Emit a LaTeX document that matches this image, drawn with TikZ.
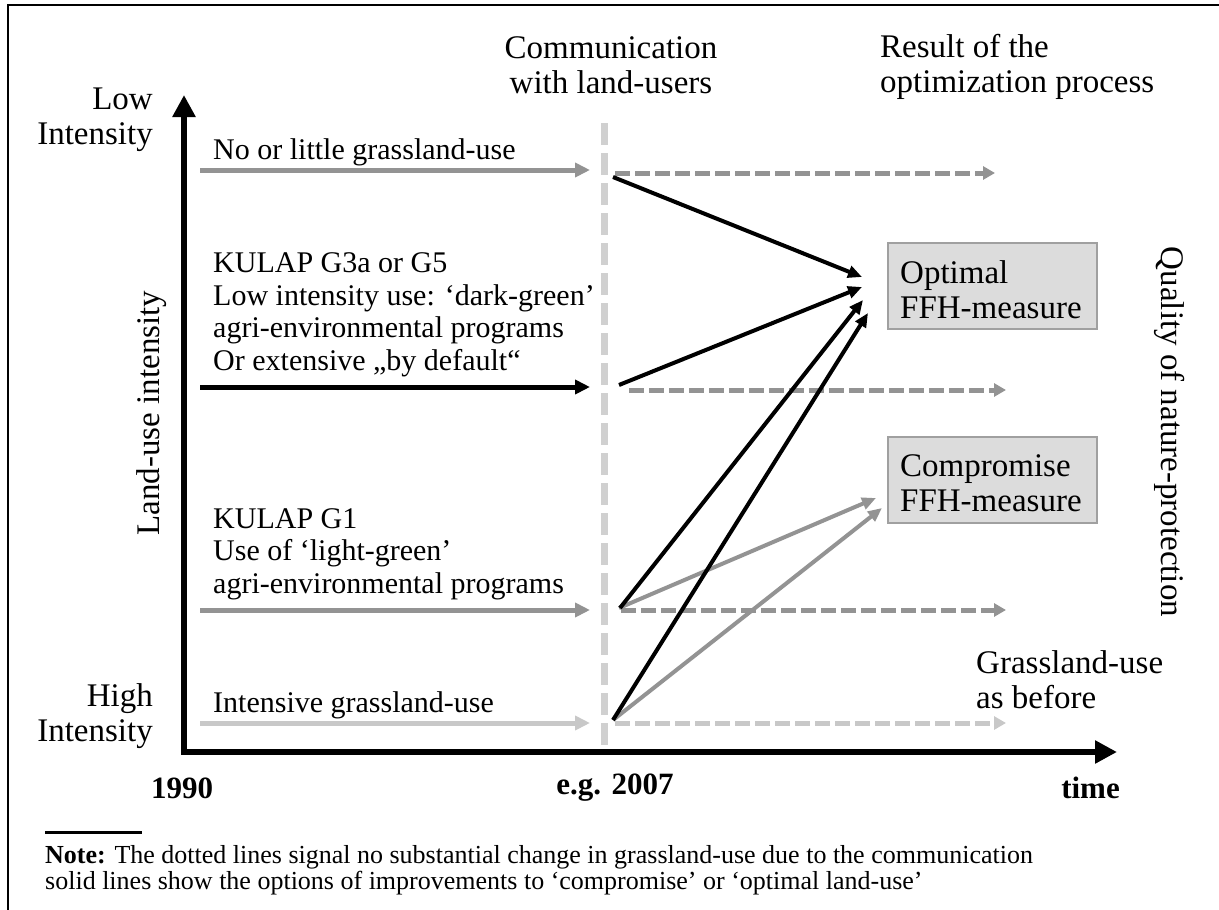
\documentclass[tikz,border=0pt]{standalone}
\usepackage{fontspec}
\setmainfont{Liberation Serif}
\usetikzlibrary{arrows.meta}
\definecolor{midgray}{HTML}{939393}
\definecolor{lightgray}{HTML}{C8C8C8}
\definecolor{dashgray}{HTML}{D0D0D0}
\definecolor{boxfill}{HTML}{DCDCDC}
\definecolor{boxline}{HTML}{A0A0A0}
\begin{document}
\begin{tikzpicture}[x=1pt,y=-1pt,
  txt/.style={font=\fontsize{30}{32.5}\selectfont, inner sep=0pt, align=left},
  bigtxt/.style={font=\fontsize{33}{35}\selectfont, inner sep=0pt, align=left},
  btxt/.style={font=\fontsize{31}{34}\selectfont\bfseries, inner sep=0pt},
  notetxt/.style={font=\fontsize{26}{26}\selectfont, inner sep=0pt, align=left, anchor=west},
  axis/.style={line width=6pt, line join=miter, {Triangle[length=22pt,width=22pt]}-{Triangle[length=22pt,width=22pt]}},
  solidarr/.style={line width=5pt, -{Triangle[length=15pt,width=14pt]}},
  dasharr/.style={line width=5pt, dash pattern=on 15pt off 5pt, -{Triangle[length=12pt,width=13pt]}},
  diagarr/.style={line width=4pt, -{Triangle[length=14pt,width=12pt]}},
  measurebox/.style={draw=boxline, line width=1.5pt, fill=boxfill, minimum width=209pt, minimum height=86pt, inner sep=0pt}
]
\useasboundingbox (0,0) rectangle (1219,910);
% frame
\draw[line width=2pt] (8,910) -- (8,5) -- (1219,5);

% axes
\coordinate (ytip) at (184,95);
\coordinate (orig) at (184,752);
\coordinate (xtip) at (1117,752);
\draw[axis] (ytip) -- (orig) -- (xtip);

% communication line
\coordinate (comtop) at (604,123);
\coordinate (combot) at (604,750);
\draw[dashgray, line width=7pt, dash pattern=on 22pt off 8pt] (comtop) -- (combot);

% axis labels
\node[bigtxt, anchor=east, align=right] (low) at (153,120) {Low\\Intensity};
\node[bigtxt, anchor=east, align=right] (high) at (153,716) {High\\Intensity};
\node[bigtxt, rotate=90] (lui) at (152,413) {Land-use intensity};
\node[bigtxt, rotate=-90] (qual) at (1170,432) {Quality of nature-protection};
\node[bigtxt, align=center] (comm) at (611,65) {Communication\\with land-users};
\node[bigtxt, anchor=west] (res) at (880,67) {Result of the\\optimization process};

% row texts
\node[txt, anchor=west] (t1) at (213,152) {No or little grassland-use};
\node[txt, anchor=west] (t2) at (213,315) {KULAP G3a or G5\\Low intensity use: ‘dark-green’\\agri-environmental programs\\Or extensive „by default“};
\node[txt, anchor=west] (t3) at (213,554) {KULAP G1\\Use of ‘light-green’\\agri-environmental programs};
\node[txt, anchor=west] (t4) at (213,705) {Intensive grassland-use};
\node[bigtxt, anchor=west] (asb) at (976,680) {Grassland-use\\as before};

% boxes
\node[measurebox] (opt) at (992.5,286) {};
\node[bigtxt, anchor=west] (optt) at (900,290) {Optimal\\FFH-measure};
\node[measurebox] (comp) at (992.5,480) {};
\node[bigtxt, anchor=west] (compt) at (900,483) {Compromise\\FFH-measure};

% time labels
\node[btxt] (y1990) at (182,788) {1990};
\node[btxt] (y2007) at (615,788) {e.g. 2007};
\node[btxt, anchor=east] (time) at (1120,788) {time};

% horizontal solid arrows
\coordinate (s1) at (200,170); \coordinate (e1) at (590,170);
\coordinate (s2) at (200,387); \coordinate (e2) at (590,387);
\coordinate (s3) at (200,610); \coordinate (e3) at (590,610);
\coordinate (s4) at (200,723); \coordinate (e4) at (590,723);
\draw[solidarr, midgray] (s1) -- (e1);
\draw[solidarr, black] (s2) -- (e2);
\draw[solidarr, midgray] (s3) -- (e3);
\draw[solidarr, lightgray] (s4) -- (e4);

% dashed arrows
\coordinate (d1s) at (615,173); \coordinate (d1e) at (995,173);
\coordinate (d2s) at (629,390); \coordinate (d2e) at (1006,390);
\coordinate (d3s) at (621,610); \coordinate (d3e) at (1006,610);
\coordinate (d4s) at (615,723); \coordinate (d4e) at (1006,723);
\draw[dasharr, midgray] (d1s) -- (d1e);
\draw[dasharr, midgray] (d2s) -- (d2e);
\draw[dasharr, midgray] (d3s) -- (d3e);
\draw[dasharr, lightgray] (d4s) -- (d4e);

% diagonal arrows
\coordinate (o1) at (613,177); \coordinate (oe1) at (862,277);
\coordinate (o2) at (619,385); \coordinate (oe2) at (862,287);
\coordinate (o3) at (620,608); \coordinate (oe3) at (863,300);
\coordinate (o4) at (613,720); \coordinate (oe4) at (868,313);
\coordinate (c3) at (619,608); \coordinate (ce3) at (876,498);
\coordinate (c4) at (613,720); \coordinate (ce4) at (882,508);
\draw[diagarr, midgray] (c3) -- (ce3);
\draw[diagarr, midgray] (c4) -- (ce4);
\draw[diagarr, black] (o1) -- (oe1);
\draw[diagarr, black] (o2) -- (oe2);
\draw[diagarr, black] (o3) -- (oe3);
\draw[diagarr, black] (o4) -- (oe4);

% note
\coordinate (r1) at (45,832); \coordinate (r2) at (142,832);
\draw[line width=3pt] (r1) -- (r2);
\node[notetxt] (note1) at (45,857) {\textbf{Note:} The dotted lines signal no substantial change in grassland-use due to the communication};
\node[notetxt] (note2) at (45,883) {solid lines show the options of improvements to ‘compromise’ or ‘optimal land-use’};
\end{tikzpicture}
\end{document}
